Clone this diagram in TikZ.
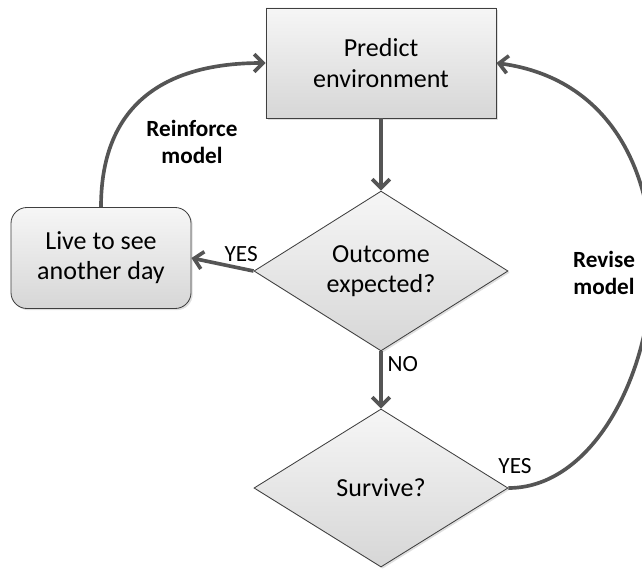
\documentclass[tikz,border=0pt]{standalone}
\usepackage{fontspec}
\setmainfont{Carlito}
\usetikzlibrary{shapes.geometric,arrows.meta,shadows}
\definecolor{linegray}{HTML}{555555}
\definecolor{edgegray}{HTML}{3F3F3F}

\begin{document}
\begin{tikzpicture}[x=0.025cm, y=-0.025cm,
    boxfill/.style={draw=edgegray, line width=0.6pt, top color=gray!7, bottom color=gray!32,
        drop shadow={opacity=0.25, shadow xshift=1.2pt, shadow yshift=-1.2pt},
        align=center, font=\fontsize{18.5}{21.5}\selectfont},
    procbox/.style={boxfill, minimum width=5.75cm, minimum height=2.75cm},
    livebox/.style={boxfill, rounded corners=0.4cm, minimum width=4.5cm, minimum height=2.525cm},
    decision/.style={boxfill, diamond, inner sep=0pt, minimum width=6.35cm, minimum height=3.95cm},
    flow/.style={draw=linegray, line width=2.6pt, -{Straight Barb[length=2.2mm, width=4.4mm]}},
    lbl/.style={font=\fontsize{16.5}{19.5}\selectfont, align=center},
    blbl/.style={lbl, font=\fontsize{16.5}{19.5}\selectfont\bfseries}]
    \useasboundingbox (0,0) rectangle (642,570);
    \node[procbox](predict) at (381,63) {Predict\\environment};
    \node[decision](outcome) at (381,271) {Outcome\\expected?};
    \node[decision](survive) at (381,488) {Survive?};
    \node[livebox](live) at (101,258) {Live to see\\another day};
    \draw[flow](predict)--(outcome);
    \draw[flow](outcome.west)--node[lbl, pos=0.2, above]{YES}(live.east);
    \draw[flow](outcome.south)--node[lbl, pos=0.22, right]{NO}(survive.north);
    \draw[flow](live.north)..controls(101,100) and (170,63)..(predict.west);
    \draw[flow](survive.east)..controls(665,488) and (735,95)..(predict.east);
    \node[lbl](yes) at (515,466) {YES};
    \node[blbl](reinforce) at (192,142) {Reinforce\\model};
    \node[blbl](revise) at (604,273) {Revise\\model};
\end{tikzpicture}
\end{document}
